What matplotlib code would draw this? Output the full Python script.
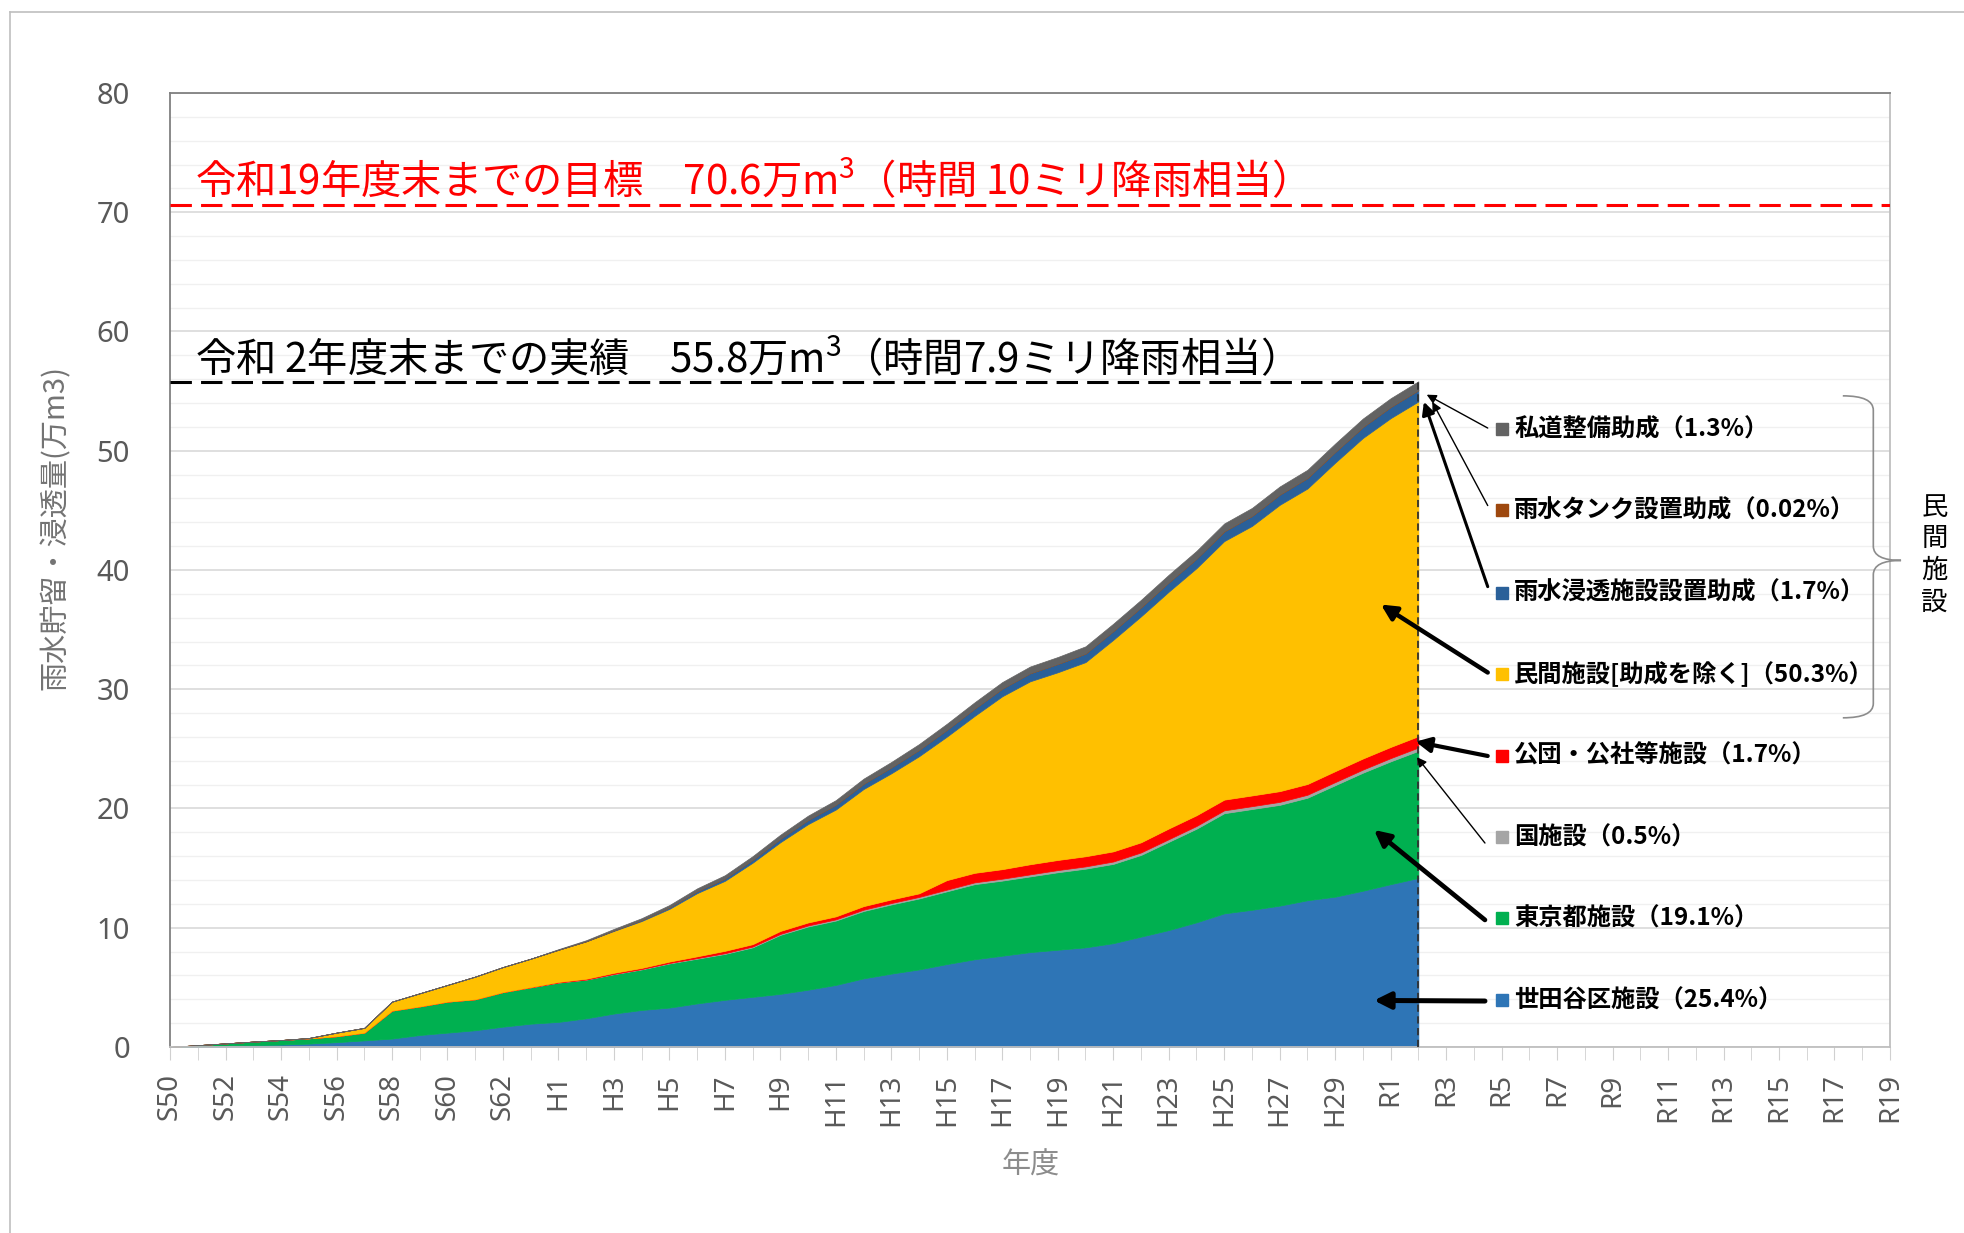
import numpy as np
import matplotlib.pyplot as plt
from matplotlib.path import Path
from matplotlib.patches import PathPatch

plt.rcParams['font.family'] = ['Noto Sans CJK JP', 'DejaVu Sans']

# 年度 S50(1975) ... R2(2020), 累計 (万m3) の内訳
years = np.arange(46)

setagaya = [0, 0.05, 0.12, 0.16, 0.2, 0.28, 0.4, 0.55, 0.7, 1.0, 1.2, 1.4, 1.7, 1.95, 2.1, 2.4,
            2.8, 3.1, 3.3, 3.65, 3.95, 4.2, 4.45, 4.8, 5.2, 5.75, 6.15, 6.5, 6.95, 7.35, 7.65,
            7.95, 8.15, 8.35, 8.7, 9.25, 9.8, 10.45, 11.2, 11.5, 11.85, 12.3, 12.6, 13.1, 13.65, 14.17]
tokyo = [0, 0.10, 0.18, 0.29, 0.38, 0.44, 0.50, 0.65, 2.35, 2.40, 2.60, 2.60, 2.90, 3.05, 3.30,
         3.25, 3.30, 3.40, 3.70, 3.75, 3.85, 4.15, 4.95, 5.30, 5.40, 5.65, 5.80, 5.95, 6.10, 6.30,
         6.30, 6.35, 6.50, 6.60, 6.65, 6.85, 7.40, 7.85, 8.40, 8.45, 8.45, 8.60, 9.35, 9.90, 10.30, 10.66]
kuni = [0, 0, 0, 0, 0, 0, 0, 0, 0, 0, 0, 0, 0, 0, 0, 0, 0.02, 0.03, 0.04, 0.05, 0.06, 0.07, 0.08,
        0.09, 0.10, 0.11, 0.12, 0.13, 0.14, 0.15, 0.16, 0.17, 0.18, 0.19, 0.20, 0.21, 0.22, 0.23,
        0.24, 0.24, 0.25, 0.25, 0.26, 0.26, 0.27, 0.28]
kodan = [0, 0, 0, 0, 0, 0, 0, 0, 0, 0, 0, 0, 0, 0.02, 0.05, 0.07, 0.10, 0.10, 0.12, 0.15, 0.20,
         0.20, 0.25, 0.25, 0.25, 0.30, 0.30, 0.30, 0.80, 0.80, 0.80, 0.85, 0.85, 0.85, 0.85, 0.85,
         0.90, 0.90, 0.90, 0.90, 0.90, 0.90, 0.92, 0.93, 0.94, 0.95]
minkan = [0, 0, 0, 0, 0, 0.03, 0.3, 0.4, 0.75, 1.1, 1.4, 1.9, 2.1, 2.38, 2.7, 3.13, 3.51, 3.93,
          4.42, 5.30, 5.87, 6.83, 7.44, 8.25, 8.96, 9.82, 10.58, 11.5, 12.03, 13.16, 14.5, 15.34,
          15.74, 16.28, 17.74, 18.95, 19.86, 20.72, 21.68, 22.6, 24.01, 24.78, 25.87, 26.88, 27.57, 28.07]
shinto = [0, 0, 0, 0, 0, 0, 0, 0, 0, 0, 0, 0, 0, 0, 0, 0.02, 0.05, 0.08, 0.12, 0.16, 0.2, 0.25,
          0.3, 0.35, 0.4, 0.45, 0.5, 0.54, 0.58, 0.62, 0.65, 0.68, 0.7, 0.72, 0.74, 0.76, 0.78,
          0.8, 0.82, 0.84, 0.86, 0.88, 0.9, 0.92, 0.94, 0.95]
tank = [0, 0, 0, 0, 0, 0, 0, 0, 0, 0, 0, 0, 0, 0, 0, 0, 0, 0, 0, 0, 0, 0, 0, 0, 0, 0, 0, 0, 0, 0,
        0, 0, 0, 0.005, 0.005, 0.005, 0.01, 0.01, 0.01, 0.01, 0.01, 0.01, 0.01, 0.01, 0.01, 0.01]
shido = [0, 0, 0, 0, 0, 0, 0, 0, 0, 0, 0, 0, 0, 0, 0.05, 0.08, 0.12, 0.16, 0.2, 0.24, 0.27, 0.3,
         0.33, 0.36, 0.39, 0.42, 0.45, 0.48, 0.5, 0.52, 0.54, 0.56, 0.58, 0.6, 0.61, 0.62, 0.63,
         0.64, 0.65, 0.66, 0.67, 0.68, 0.69, 0.7, 0.72, 0.73]

tick_labels = ["S50", "S52", "S54", "S56", "S58", "S60", "S62", "H1", "H3", "H5", "H7", "H9",
               "H11", "H13", "H15", "H17", "H19", "H21", "H23", "H25", "H27", "H29", "R1", "R3",
               "R5", "R7", "R9", "R11", "R13", "R15", "R17", "R19"]

labels = ["私道整備助成（1.3%）", "雨水タンク設置助成（0.02%）", "雨水浸透施設設置助成（1.7%）",
          "民間施設[助成を除く]（50.3%）", "公団・公社等施設（1.7%）", "国施設（0.5%）",
          "東京都施設（19.1%）", "世田谷区施設（25.4%）"]
label_colors = ["#636363", "#9E480E", "#2A6099", "#FFC000", "#FF0000", "#A5A5A5", "#00B050", "#2E75B6"]

target = 70.6
actual = 55.8

colors = ["#2E75B6", "#00B050", "#A5A5A5", "#FF0000", "#FFC000", "#2A6099", "#9E480E", "#636363"]

fig = plt.figure(figsize=(19.64, 12.33), dpi=100)
ax = fig.add_axes([0.0866, 0.1509, 0.8757, 0.7737])

ax.stackplot(years, setagaya, tokyo, kuni, kodan, minkan, shinto, tank, shido,
             colors=colors, linewidth=0.5, edgecolor='face', zorder=2)

ax.set_xlim(0, 62)
ax.set_ylim(0, 80)

# grid
ax.set_yticks(range(0, 81, 10))
ax.set_yticks(range(0, 81, 2), minor=True)
ax.yaxis.grid(True, which='major', color='#D9D9D9', lw=1.2)
ax.yaxis.grid(True, which='minor', color='#F0F0F0', lw=1.0)
ax.set_axisbelow(True)
ax.tick_params(axis='y', which='both', length=0, pad=29, labelsize=21, labelcolor='#595959')

ax.set_xticks(range(0, 63, 2))
ax.set_xticks(range(0, 63), minor=True)
ax.set_xticklabels(tick_labels, rotation=90, fontfamily='Noto Sans')
ax.tick_params(axis='x', which='both', direction='out', length=9, color='#D0D0D0',
               labelsize=20, labelcolor='#595959', pad=10)
for lab in ax.get_yticklabels():
    lab.set_fontfamily('Noto Sans')

for s in ['left', 'top']:
    ax.spines[s].set_color('#808080')
for s in ['right', 'bottom']:
    ax.spines[s].set_color('#BFBFBF')
for s in ax.spines.values():
    s.set_linewidth(1.3)

# 目標・実績ライン
ax.axhline(target, color='#FF0000', lw=2.2, dashes=(7, 3), zorder=3)
ax.plot([0, years[-1]], [actual, actual], color='black', lw=2.2, dashes=(7, 3), zorder=3)
ax.plot([years[-1], years[-1]], [0, actual], color='#303030', lw=1.3, dashes=(4, 2.5), zorder=3)

ax.text(0.9, target + 0.9, '令和19年度末までの目標\u300070.6万m$^{\\mathregular{3}}$（時間 10ミリ降雨相当）',
        color='#FF0000', fontsize=29, va='baseline')
ax.text(0.9, actual + 0.8, '令和 2年度末までの実績\u300055.8万m$^{\\mathregular{3}}$（時間7.9ミリ降雨相当）',
        color='black', fontsize=29, va='baseline')

# 凡例代わりのラベル
label_y = [51.8, 45.0, 38.1, 31.3, 24.4, 17.6, 10.8, 3.9]
for y, txt, c in zip(label_y, labels, label_colors):
    ax.plot(48.0, y, marker='s', ms=9, color=c, mec=c, zorder=4)
    ax.text(48.45, y, txt, fontsize=17.5, fontweight='bold', va='center', ha='left', zorder=4)

arrows = [((45.3, 54.7), (47.5, 51.9), 1.0),
          ((45.5, 54.1), (47.5, 45.4), 1.0),
          ((45.2, 54.1), (47.5, 38.6), 2.2),
          ((43.65, 37.1), (47.5, 31.4), 3.2),
          ((44.9, 25.6), (47.5, 24.4), 3.0),
          ((44.95, 24.3), (47.4, 17.1), 1.0),
          ((43.4, 18.2), (47.4, 10.65), 3.4),
          ((43.4, 3.9), (47.4, 3.85), 3.6)]
for tip, start, w in arrows:
    ax.annotate('', xy=tip, xytext=start,
                arrowprops=dict(arrowstyle='-|>', lw=w, color='black',
                                mutation_scale=10 + 4 * w, shrinkA=0, shrinkB=0), zorder=5)

# 民間施設の括弧
verts = [(60.3, 54.6), (61.4, 54.6), (61.4, 53.4),
         (61.4, 42.0), (61.4, 40.8), (62.4, 40.8),
         (61.4, 40.8), (61.4, 39.6),
         (61.4, 28.8), (61.4, 27.6), (60.3, 27.6)]
codes = [Path.MOVETO, Path.CURVE3, Path.CURVE3,
         Path.LINETO, Path.CURVE3, Path.CURVE3,
         Path.CURVE3, Path.CURVE3,
         Path.LINETO, Path.CURVE3, Path.CURVE3]
ax.add_patch(PathPatch(Path(verts, codes), fill=False, edgecolor='#8C8C8C', lw=1.2,
                       clip_on=False, zorder=4))
ax.text(63.6, 41.3, '民\n間\n施\n設', fontsize=19, ha='center', va='center',
        linespacing=1.22, clip_on=False)

# 軸ラベル
fig.text(0.0285, 0.572, '雨水貯留・浸透量(万m3)', rotation=90, ha='center', va='center',
         fontsize=21, color='#737373')
fig.text(0.525, 0.055, '年度', ha='center', va='center', fontsize=21, color='#8C8C8C')

# 外枠
fig.add_artist(plt.Line2D([0.005, 0.005], [0, 0.99], color='#BFBFBF', lw=1.2))
fig.add_artist(plt.Line2D([0.005, 1.0], [0.99, 0.99], color='#BFBFBF', lw=1.2))

fig.savefig('out.png', dpi=100, facecolor='white')
